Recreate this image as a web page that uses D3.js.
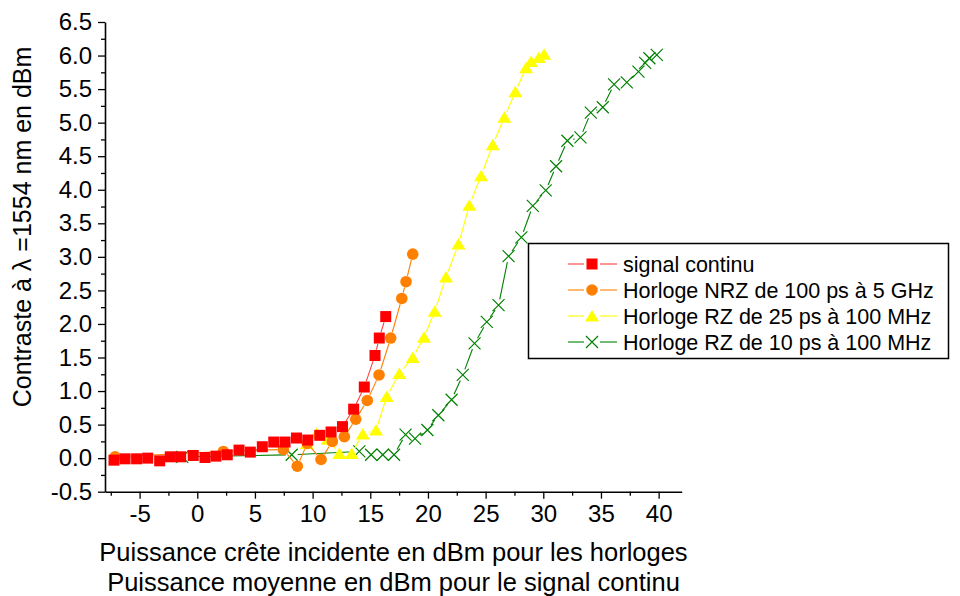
<!DOCTYPE html>
<html>
<head>
<meta charset="utf-8">
<script src="https://cdn.jsdelivr.net/npm/d3@7"></script>
<style>
  body { margin: 0; background: #fff; }
  text { font-family: Arial, "Liberation Sans", sans-serif; fill: #000; }
</style>
</head>
<body>
<svg id="chart" width="960" height="596"></svg>
<script>
// Contraste mesuré en fonction de la puissance injectée
const signalX = [-7.22, -6.26, -5.26, -4.30, -3.26, -2.34, -1.44, -0.35, 0.67, 1.62, 2.60, 3.62, 4.60, 5.64, 6.63, 7.61, 8.60, 9.58, 10.62, 11.60, 12.59, 13.56, 14.48, 15.41, 15.78, 16.34];
const signalY = [-0.03, -0.01, -0.01, 0.00, -0.04, 0.02, 0.02, 0.04, 0.01, 0.03, 0.05, 0.12, 0.09, 0.17, 0.24, 0.24, 0.30, 0.27, 0.34, 0.39, 0.47, 0.73, 1.06, 1.53, 1.79, 2.11];

const nrzX = [-7.13, 2.26, 7.46, 8.67, 9.54, 10.73, 11.71, 12.75, 13.74, 14.74, 15.76, 16.77, 17.73, 18.10, 18.68];
const nrzY = [0.02, 0.10, 0.13, -0.12, 0.22, -0.02, 0.25, 0.32, 0.58, 0.86, 1.24, 1.79, 2.38, 2.63, 3.04];

const rz25X = [9.49, 10.36, 11.31, 12.32, 13.39, 14.35, 15.50, 16.43, 17.52, 18.68, 19.66, 20.59, 21.57, 22.65, 23.59, 24.61, 25.62, 26.63, 27.58, 28.51, 28.94, 29.61, 30.07];
const rz25Y = [0.22, 0.37, 0.28, 0.07, 0.07, 0.36, 0.42, 0.92, 1.26, 1.50, 1.80, 2.19, 2.70, 3.19, 3.77, 4.21, 4.67, 5.08, 5.46, 5.82, 5.91, 5.97, 6.02];

const rz10X = [-1.30, 8.19, 14.05, 15.07, 16.08, 17.06, 18.06, 18.88, 19.95, 20.90, 22.05, 23.02, 24.04, 25.10, 26.12, 26.99, 28.10, 29.09, 30.21, 31.11, 32.09, 33.22, 34.12, 35.16, 36.14, 37.24, 38.25, 38.83, 39.20, 39.84];
const rz10Y = [0.02, 0.05, 0.10, 0.05, 0.05, 0.05, 0.35, 0.29, 0.42, 0.64, 0.87, 1.24, 1.71, 2.03, 2.28, 3.01, 3.29, 3.76, 3.99, 4.35, 4.73, 4.78, 5.15, 5.23, 5.57, 5.60, 5.76, 5.89, 5.96, 6.01];

const seriesNames = ["signal continu", "Horloge NRZ de 100 ps à 5 GHz", "Horloge RZ de 25 ps à 100 MHz", "Horloge RZ de 10 ps à 100 MHz"];
const seriesColors = ["#ff0000", "#ff8000", "#ffff00", "#008000"];
const lineColors = ["#ff4040", "#ff8000", "#ffff00", "#008000"];
const seriesSymbols = ["square", "circle", "triangle", "cross"];

const xMajorTicks = [-5, 0, 5, 10, 15, 20, 25, 30, 35, 40];
const yMajorTicks = [-0.5, 0.0, 0.5, 1.0, 1.5, 2.0, 2.5, 3.0, 3.5, 4.0, 4.5, 5.0, 5.5, 6.0, 6.5];

const xTitleLines = ["Puissance crête incidente en dBm pour les horloges", "Puissance moyenne en dBm pour le signal continu"];
const yTitle = "Contraste à λ =1554 nm en dBm";

const seriesX = [signalX, nrzX, rz25X, rz10X];
const seriesY = [signalY, nrzY, rz25Y, rz10Y];

const svg = d3.select("#chart");
const x = d3.scaleLinear().domain([-8, 42]).range([105, 681.7]);
const y = d3.scaleLinear().domain([-0.5, 6.5]).range([491.7, 22]);

const tickFont = 24;
// plain hyphen for negative numbers
const fmtX = d => d3.format("d")(d).replace("\u2212", "-");
const fmtY = d => d3.format(".1f")(d).replace("\u2212", "-");

// minor ticks
const xMinor = d3.range(-7.5, 42, 5);
const yMinor = d3.range(-0.25, 6.5, 0.5);

const gx = svg.append("g").attr("transform", `translate(0,${y(-0.5)})`);
gx.call(d3.axisBottom(x).tickValues(xMinor).tickSize(4).tickFormat(""))
  .call(g => g.select(".domain").remove());
gx.append("g").call(d3.axisBottom(x).tickValues(xMajorTicks).tickSize(7).tickSizeOuter(0).tickPadding(6).tickFormat(fmtX))
  .call(g => g.select(".domain").attr("stroke-width", 1.6))
  .call(g => g.selectAll("text").attr("font-size", tickFont).attr("fill", "#000").attr("font-family", "Arial, 'Liberation Sans', sans-serif"));

const gy = svg.append("g").attr("transform", `translate(${x(-8)},0)`);
gy.call(d3.axisLeft(y).tickValues(yMinor).tickSize(4).tickFormat(""))
  .call(g => g.select(".domain").remove());
gy.append("g").call(d3.axisLeft(y).tickValues(yMajorTicks).tickSize(7).tickSizeOuter(0).tickPadding(6).tickFormat(fmtY))
  .call(g => g.select(".domain").attr("stroke-width", 1.6))
  .call(g => g.selectAll("text").attr("font-size", tickFont).attr("fill", "#000").attr("font-family", "Arial, 'Liberation Sans', sans-serif"));
svg.selectAll(".tick line").attr("stroke", "#000").attr("stroke-width", 1.3);

// symbols
function drawSymbol(g, type, color, cx, cy) {
  if (type === "square") {
    g.append("rect").attr("x", cx - 5.5).attr("y", cy - 5.5).attr("width", 11).attr("height", 11).attr("fill", color);
  } else if (type === "circle") {
    g.append("circle").attr("cx", cx).attr("cy", cy).attr("r", 5.8).attr("fill", color);
  } else if (type === "triangle") {
    g.append("path").attr("d", `M${cx},${cy - 6}L${cx + 7},${cy + 5.5}L${cx - 7},${cy + 5.5}Z`).attr("fill", color);
  } else {
    g.append("path").attr("d", `M${cx - 6},${cy - 6}L${cx + 6},${cy + 6}M${cx - 6},${cy + 6}L${cx + 6},${cy - 6}`)
      .attr("stroke", color).attr("stroke-width", 1.2).attr("fill", "none");
  }
}

// line segments that stop short of each symbol
function drawGappedLine(g, pts, color, gap) {
  for (let i = 0; i < pts.length - 1; i++) {
    const [x1, y1] = pts[i], [x2, y2] = pts[i + 1];
    const dx = x2 - x1, dy = y2 - y1, len = Math.hypot(dx, dy);
    if (len <= 2 * gap + 1) continue;
    const ux = dx / len, uy = dy / len;
    g.append("line")
      .attr("x1", x1 + ux * gap).attr("y1", y1 + uy * gap)
      .attr("x2", x2 - ux * gap).attr("y2", y2 - uy * gap)
      .attr("stroke", color).attr("stroke-width", 1.1);
  }
}

// draw back to front: green, yellow, orange, red
const plot = svg.append("g");
[3, 2, 1, 0].forEach(k => {
  const g = plot.append("g");
  const pts = seriesX[k].map((v, i) => [x(v), y(seriesY[k][i])]);
  drawGappedLine(g, pts, lineColors[k], 6);
  pts.forEach(p => drawSymbol(g, seriesSymbols[k], seriesColors[k], p[0], p[1]));
});

// axis titles
svg.append("text").attr("x", 393.5).attr("y", 561).attr("text-anchor", "middle").attr("font-size", 25.5).text(xTitleLines[0]);
svg.append("text").attr("x", 393.5).attr("y", 591).attr("text-anchor", "middle").attr("font-size", 25.5).text(xTitleLines[1]);
svg.append("text").attr("transform", "translate(31,227) rotate(-90)").attr("text-anchor", "middle").attr("font-size", 25).text(yTitle);

// legend
const lg = svg.append("g");
lg.append("rect").attr("x", 528.5).attr("y", 243.5).attr("width", 420).attr("height", 115)
  .attr("fill", "#fff").attr("stroke", "#000").attr("stroke-width", 1.5);
const rowY = [264, 290, 316, 342];
seriesNames.forEach((name, k) => {
  const ry = rowY[k];
  lg.append("line").attr("x1", 568).attr("x2", 584).attr("y1", ry).attr("y2", ry).attr("stroke", lineColors[k]).attr("stroke-width", 1.1);
  lg.append("line").attr("x1", 600).attr("x2", 617).attr("y1", ry).attr("y2", ry).attr("stroke", lineColors[k]).attr("stroke-width", 1.1);
  drawSymbol(lg, seriesSymbols[k], seriesColors[k], 592, ry);
  lg.append("text").attr("x", 623).attr("y", ry).attr("dy", "0.35em").attr("font-size", 21.5).text(name);
});
</script>
</body>
</html>
